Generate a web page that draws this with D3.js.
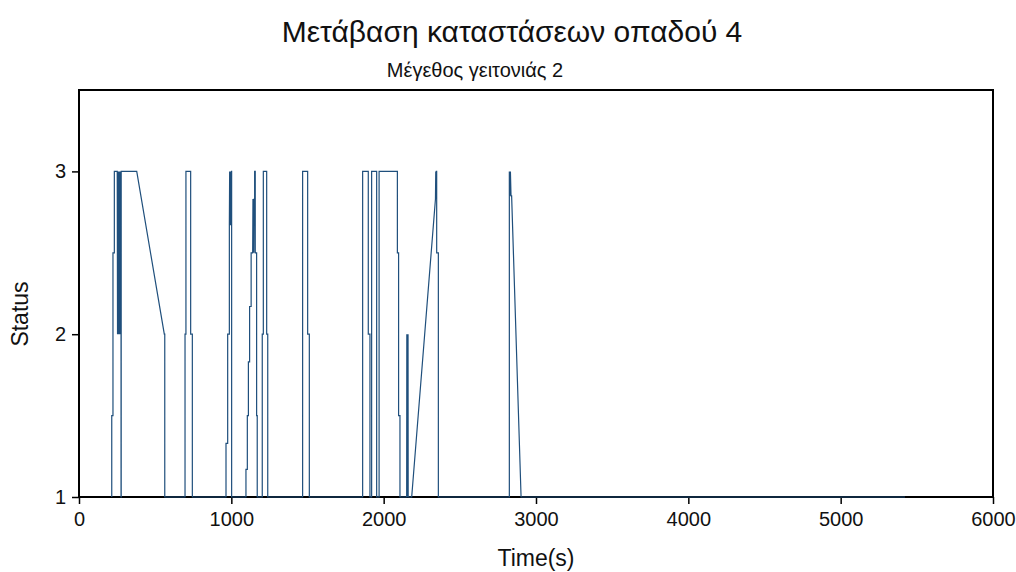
<!DOCTYPE html>
<html>
<head>
<meta charset="utf-8">
<script src="https://cdn.jsdelivr.net/npm/d3@7"></script>
<style>
  body { margin: 0; background: #fff; }
  text { font-family: "Liberation Sans", Arial, sans-serif; fill: #111; }
</style>
</head>
<body>
<div id="chart"></div>
<script>
// Time (s) and status of the follower
var times = [
  215, 215, 223, 223, 232, 232, 251, 253, 255, 257, 259, 261, 263, 265, 267, 269, 271, 273, 275, 276, 276, 277, 277,
  379, 560, 563, 563,
  696, 696, 702, 702, 733, 733, 744, 744,
  965, 965, 976, 976, 987, 987, 989, 991, 993, 995, 997, 999, 1001, 1002, 1002,
  1096, 1096, 1105, 1105, 1112, 1112, 1120, 1120, 1130, 1130, 1140, 1142, 1144, 1146, 1148, 1150, 1153, 1153, 1157, 1157, 1166, 1166, 1170, 1170,
  1203, 1203, 1210, 1210, 1232, 1232, 1239, 1239,
  1468, 1468, 1501, 1501, 1512, 1512,
  1862, 1862, 1899, 1899, 1910, 1910, 1921, 1921, 1954, 1954, 1970, 1970, 2090, 2090, 2098, 2098, 2107, 2107,
  2151, 2152, 2154, 2156, 2158, 2160, 2161,
  2184, 2340, 2342, 2344, 2346, 2348, 2348, 2359, 2359,
  2825, 2825, 2830, 2832, 2836, 2840, 2902,
  5422
];
var statusValues = [
  1, 1.5, 1.5, 2.5, 2.5, 3, 3, 2, 3, 2, 3, 2, 3, 2, 3, 2, 3, 2, 3, 2, 1, 1, 3,
  3, 2, 2, 1,
  1, 2, 2, 3, 3, 2, 2, 1,
  1, 1.33, 1.33, 2, 2, 2.67, 3, 2.67, 3, 2.67, 3, 2.67, 3, 3, 1,
  1, 1.17, 1.17, 1.5, 1.5, 1.83, 1.83, 2.17, 2.17, 2.5, 2.5, 2.83, 2.5, 2.83, 2.5, 2.83, 2.83, 3, 3, 2.5, 2.5, 1.5, 1.5, 1,
  1, 2, 2, 3, 3, 2, 2, 1,
  1, 3, 3, 2, 2, 1,
  1, 3, 3, 2, 2, 1, 1, 3, 3, 1, 1, 3, 3, 2.5, 2.5, 1.5, 1.5, 1,
  1, 2, 1, 2, 1, 2, 1,
  1, 2.83, 3, 2.83, 3, 3, 2.5, 2.5, 1,
  1, 3, 2.85, 3, 2.85, 2.85, 1,
  1
];
var xTicks = [0, 1000, 2000, 3000, 4000, 5000, 6000];
var yTicks = [1, 2, 3];

var titleText = "Μετάβαση καταστάσεων οπαδού 4";
var subtitleText = "Μέγεθος γειτονιάς 2";
var xLabel = "Time(s)";
var yLabel = "Status";

var w = 1016, h = 572;
var margin = { top: 90, right: 23, bottom: 75, left: 79 };
var width = w - margin.left - margin.right;
var height = h - margin.top - margin.bottom;

var svg = d3.select("#chart").append("svg")
    .attr("width", w)
    .attr("height", h);

var g = svg.append("g")
    .attr("transform", `translate(${margin.left},${margin.top})`);

var x = d3.scaleLinear().domain([0, 6000]).range([0, width]);
var y = d3.scaleLinear().domain([1, 3.5]).range([height, 0]);

// frame
g.append("rect")
    .attr("x", 0).attr("y", 0)
    .attr("width", width).attr("height", height)
    .attr("fill", "none")
    .attr("stroke", "#000")
    .attr("stroke-width", 2);

// axes
var xAxis = g.append("g")
    .attr("transform", `translate(0,${height})`)
    .call(d3.axisBottom(x).tickValues(xTicks).tickSize(7).tickPadding(8).tickFormat(d3.format("d")));
var yAxis = g.append("g")
    .call(d3.axisLeft(y).tickValues(yTicks).tickSize(7).tickPadding(6).tickFormat(d3.format("d")));

[xAxis, yAxis].forEach(function (a) {
    a.select(".domain").remove();
    a.selectAll(".tick line").attr("stroke", "#000").attr("stroke-width", 1.5);
    a.selectAll(".tick text")
        .style("font-family", "'Liberation Sans', Arial, sans-serif")
        .style("font-size", "20px")
        .attr("fill", "#111");
});

// data line
var line = d3.line()
    .x(function (d, i) { return x(times[i]); })
    .y(function (d, i) { return y(statusValues[i]); });

g.append("path")
    .datum(times)
    .attr("d", line)
    .attr("fill", "none")
    .attr("stroke", "#1f4f7c")
    .attr("stroke-width", 1.2);

// titles
svg.append("text")
    .attr("x", 512).attr("y", 42)
    .attr("text-anchor", "middle")
    .style("font-size", "30px")
    .text(titleText);

svg.append("text")
    .attr("x", 475).attr("y", 77)
    .attr("text-anchor", "middle")
    .style("font-size", "20px")
    .text(subtitleText);

svg.append("text")
    .attr("x", margin.left + width / 2).attr("y", 566)
    .attr("text-anchor", "middle")
    .style("font-size", "23px")
    .text(xLabel);

svg.append("text")
    .attr("transform", "translate(28,314) rotate(-90)")
    .attr("text-anchor", "middle")
    .style("font-size", "23px")
    .text(yLabel);
</script>
</body>
</html>
